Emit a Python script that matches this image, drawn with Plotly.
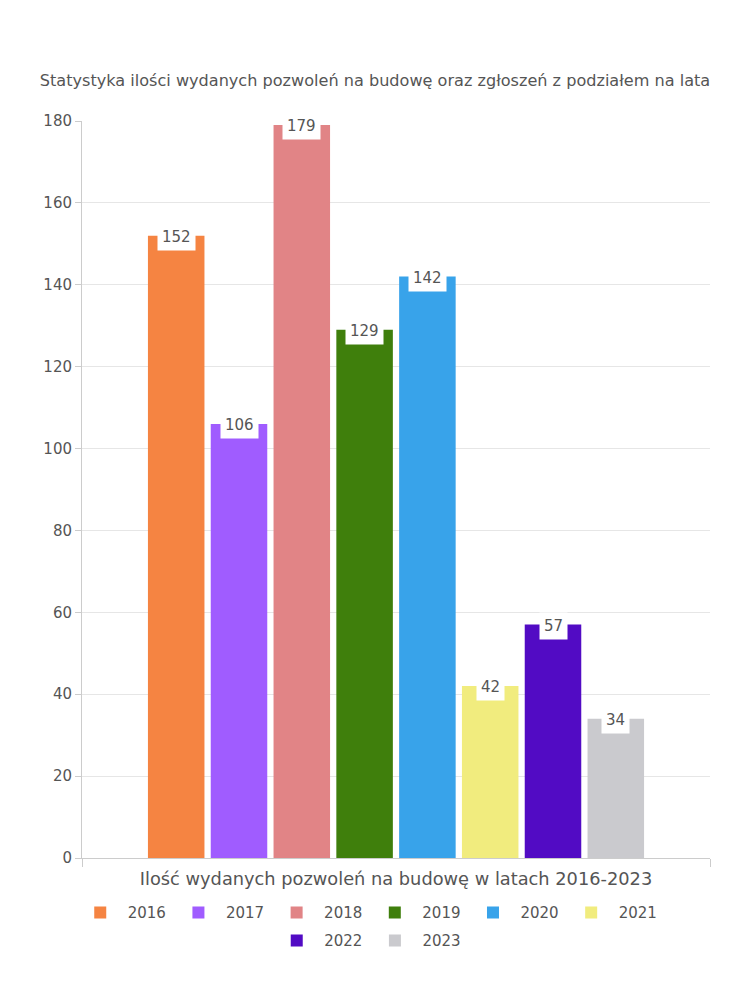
import plotly.graph_objects as go

title_text = "Statystyka ilości wydanych pozwoleń na budowę oraz zgłoszeń z podziałem na lata"
category = "Ilość wydanych pozwoleń na budowę w latach 2016-2023"
years = ["2016", "2017", "2018", "2019", "2020", "2021", "2022", "2023"]
values = [152, 106, 179, 129, 142, 42, 57, 34]
colors = ["#F58442", "#A05CFF", "#E18486", "#3F7F0C", "#38A3EA", "#F1EC7E", "#520BC4", "#CACACE"]
y_ticks = [0, 20, 40, 60, 80, 100, 120, 140, 160, 180]

W, H = 750, 1000
ML, MR, MT, MB = 82, 40, 121, 142
BARGAP, GROUPGAP = 0.2, 0.1
FONT = "DejaVu Sans"
TXT = "#555555"

fig = go.Figure()
for i, (yr, v, c) in enumerate(zip(years, values, colors)):
    fig.add_trace(go.Bar(
        x=[category], y=[v], name=yr, marker_color=c, marker_line_width=0,
        legend="legend" if i < 6 else "legend2",
        hoverinfo="y+name",
    ))

plot_w = W - ML - MR
slot = plot_w * (1 - BARGAP) / len(years)
for i, v in enumerate(values):
    fig.add_annotation(
        x=category, y=v, xref="x", yref="y", text=str(v), showarrow=False,
        xshift=(i - (len(years) - 1) / 2) * slot, yshift=-1,
        bgcolor="white", borderpad=4, font=dict(family=FONT, size=15, color=TXT),
    )

LEG_X = 0.455
fig.update_layout(
    width=W, height=H,
    margin=dict(l=ML, r=MR, t=MT, b=MB),
    paper_bgcolor="white", plot_bgcolor="white",
    barmode="group", bargap=BARGAP, bargroupgap=GROUPGAP,
    font=dict(family=FONT, size=15, color=TXT),
    title=dict(text=title_text, x=0.5, xanchor="center", y=1 - 80 / H, yanchor="middle",
               font=dict(family=FONT, size=16.1, color=TXT)),
    legend=dict(orientation="h", x=LEG_X, xanchor="center", y=-0.052, yanchor="top",
                font=dict(family=FONT, size=15, color=TXT), itemwidth=45, traceorder="normal"),
    legend2=dict(orientation="h", x=LEG_X, xanchor="center", y=-0.09, yanchor="top",
                 font=dict(family=FONT, size=15, color=TXT), itemwidth=45, traceorder="normal"),
    showlegend=True,
)
fig.update_xaxes(
    type="category", tickson="boundaries", showgrid=True, gridcolor="#e6e6e6",
    showline=True, linecolor="#cccccc", ticks="outside", ticklen=8, tickcolor="#cccccc",
    tickfont=dict(family=FONT, size=17.8, color=TXT), ticklabelstandoff=5,
)
fig.update_yaxes(
    range=[0, 180], tickvals=y_ticks, showgrid=True, gridcolor="#e6e6e6", zeroline=False,
    showline=True, linecolor="#cccccc", ticks="outside", ticklen=6, tickcolor="#cccccc",
    tickfont=dict(family=FONT, size=15, color=TXT),
)

fig.write_html("out.html")
